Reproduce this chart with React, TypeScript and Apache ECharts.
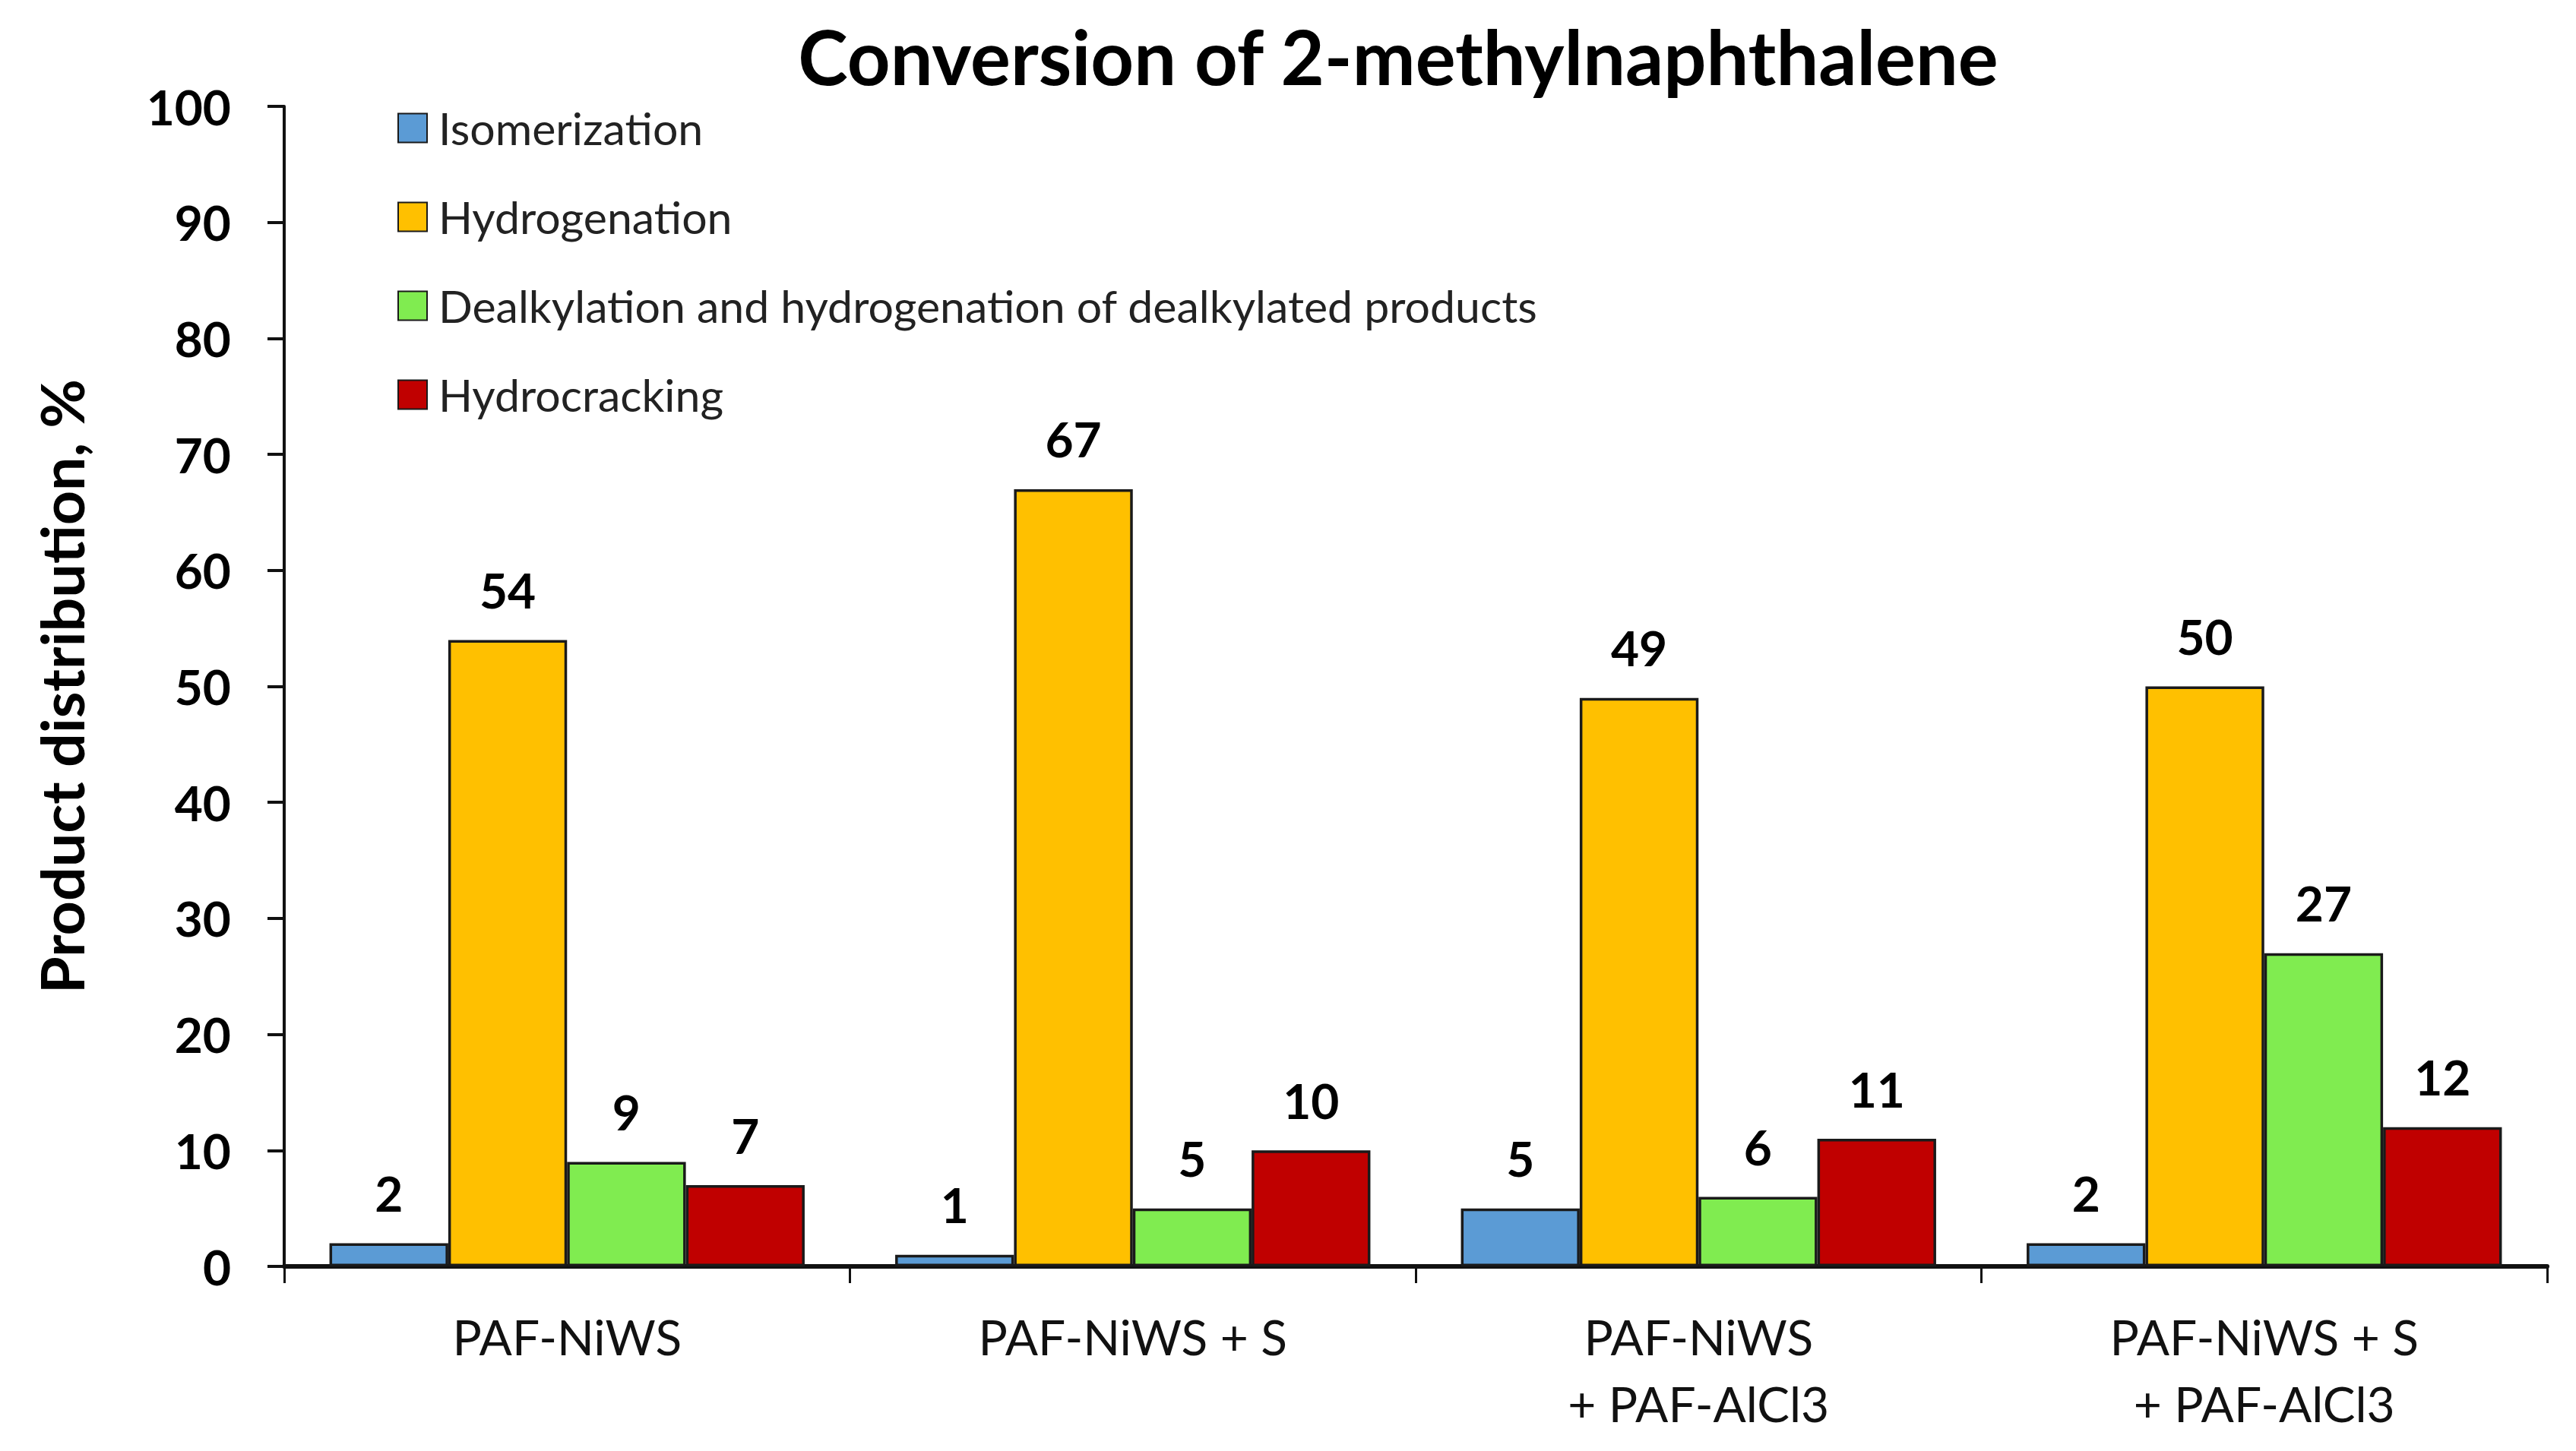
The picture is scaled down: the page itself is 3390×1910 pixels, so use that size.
import React, { useEffect, useRef } from "react";
import * as echarts from "echarts";

const categories = [
  "PAF-NiWS",
  "PAF-NiWS + S",
  "PAF-NiWS\n+ PAF-AlCl3",
  "PAF-NiWS + S\n+ PAF-AlCl3",
];
const isomerization = [2, 1, 5, 2];
const hydrogenation = [54, 67, 49, 50];
const dealkylation = [9, 5, 6, 27];
const hydrocracking = [7, 10, 11, 12];
const seriesNames = [
  "Isomerization",
  "Hydrogenation",
  "Dealkylation and hydrogenation of dealkylated products",
  "Hydrocracking",
];
const seriesColors = ["#5B9BD5", "#FFC000", "#80EC50", "#C00000"];
const yMin = 0;
const yMax = 100;
const yStep = 10;
const titleText = "Conversion of 2-methylnaphthalene";
const yAxisName = "Product distribution, %";

const FONT = "Lato";

export default function App() {
  const ref = useRef<HTMLDivElement>(null);
  useEffect(() => {
    if (!ref.current) return;
    const chart = echarts.init(ref.current, undefined, { renderer: "svg" });
    const values = [isomerization, hydrogenation, dealkylation, hydrocracking];
    const series = values.map((data, i) => ({
      name: seriesNames[i],
      type: "bar",
      data,
      barGap: "0%",
      barCategoryGap: "16%",
      itemStyle: {
        color: seriesColors[i],
        borderColor: "#1a1a1a",
        borderWidth: 3.5,
      },
      label: {
        show: true,
        position: "top",
        distance: 34,
        color: "#000",
        fontFamily: FONT,
        fontWeight: "bold",
        fontSize: 64,
      },
    }));
    chart.setOption({
      animation: false,
      backgroundColor: "#fff",
      textStyle: { fontFamily: FONT },
      title: {
        text: titleText,
        left: 1840,
        top: 24,
        padding: 0,
        textAlign: "center",
        textStyle: {
          fontFamily: FONT,
          fontWeight: "bold",
          fontSize: 99,
          color: "#000",
        },
      },
      legend: {
        orient: "vertical",
        left: 523,
        top: 139,
        padding: 0,
        itemWidth: 38,
        itemHeight: 38,
        itemGap: 58,
        icon: "rect",
        selectedMode: false,
        textStyle: {
          fontFamily: FONT,
          fontSize: 59,
          color: "#222",
          lineHeight: 38,
          padding: [0, 0, 0, 10],
        },
        data: seriesNames,
      },
      grid: {
        left: 374,
        right: 38,
        top: 140,
        bottom: 243,
        containLabel: false,
      },
      xAxis: {
        type: "category",
        data: categories,
        axisLine: { show: true, lineStyle: { color: "#111", width: 6 } },
        axisTick: {
          show: true,
          alignWithLabel: false,
          length: 22,
          lineStyle: { color: "#111", width: 3 },
        },
        axisLabel: {
          margin: 48,
          fontFamily: FONT,
          fontSize: 64,
          lineHeight: 88,
          color: "#111",
          align: "center",
        },
        splitLine: { show: false },
      },
      yAxis: {
        type: "value",
        min: yMin,
        max: yMax,
        interval: yStep,
        name: yAxisName,
        nameLocation: "middle",
        nameRotate: 90,
        nameGap: 254,
        nameTextStyle: {
          fontFamily: FONT,
          fontWeight: "bold",
          fontSize: 79,
          color: "#000",
        },
        axisLine: { show: true, lineStyle: { color: "#111", width: 4 } },
        axisTick: {
          show: true,
          length: 22,
          lineStyle: { color: "#111", width: 4 },
        },
        axisLabel: {
          margin: 70,
          fontFamily: FONT,
          fontWeight: "bold",
          fontSize: 64,
          color: "#000",
        },
        splitLine: { show: false },
      },
      series,
    });
    return () => chart.dispose();
  }, []);
  return (
    <div
      ref={ref}
      style={{ position: "fixed", left: 0, top: 0, width: 3390, height: 1910 }}
    />
  );
}
